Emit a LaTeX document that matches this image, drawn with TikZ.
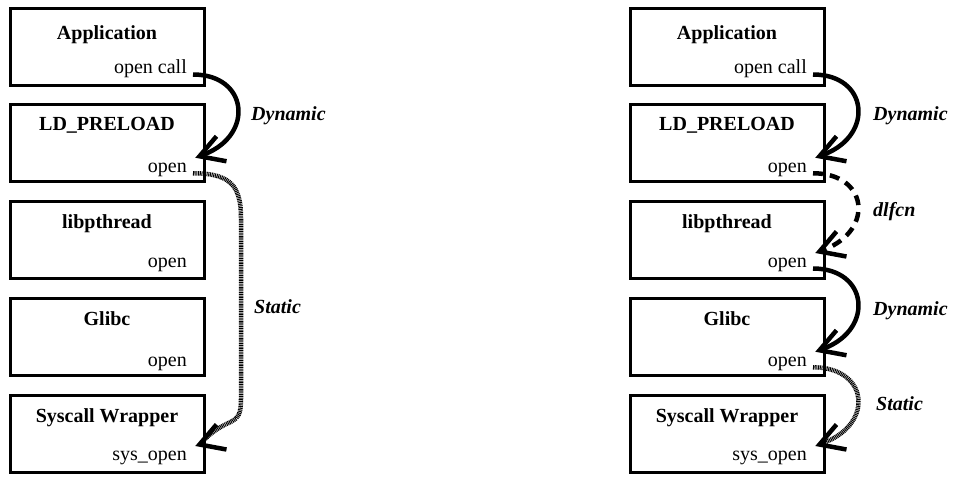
\documentclass[tikz,border=0pt]{standalone}
\usepackage{fontspec}
\setmainfont{Liberation Serif}
\usetikzlibrary{calc}
\newcommand\bigsz{\fontsize{20}{24}\selectfont}
\tikzset{
  box/.style={draw, line width=3pt, minimum width=194pt, minimum height=77pt, inner sep=0pt},
  ttl/.style={font=\bigsz\bfseries, anchor=base, inner sep=0pt},
  fn/.style={font=\bigsz, anchor=base east, inner sep=0pt},
  lbl/.style={font=\bigsz\bfseries\itshape, anchor=base west, inner sep=0pt},
  dyn/.style={line width=4.5pt, shorten >=6pt},
  stat/.style={line width=4.5pt, dash pattern=on 1pt off 0.7pt, shorten >=6pt},
  dl/.style={line width=4.5pt, dash pattern=on 10pt off 7pt, shorten >=6pt},
  wing/.style={line width=4.5pt, line join=miter, line cap=butt}
}
\begin{document}
\begin{tikzpicture}[x=1pt, y=-1pt]
\useasboundingbox (0,0) rectangle (953,477);
\foreach \s/\xo in {L/0, R/620}{
  \foreach \i/\ti/\fu/\ty/\fy in {1/Application/open call/31/65.5, 2/LD\_PRELOAD/open/25.5/67.5, 3/libpthread/open/27/66, 4/Glibc/open/27.5/68, 5/Syscall Wrapper/sys\_open/27/65.5}{
    \pgfmathsetmacro\tp{8+96.75*(\i-1)}
    \node[box] (\s\i) at (107+\xo, \tp+38.5) {};
    \node[ttl] (\s\i t) at (107+\xo, \tp+\ty) {\ti};
    \node[fn] (\s\i f) at (187+\xo, \tp+\fy) {\fu};
    \coordinate (\s\i s) at ($(\s\i f.base east)+(6,1)$);
    \coordinate (\s\i v) at ($(\s\i f.base east)+(12.5,-16)$);
  }
}
% left column connectors
\draw[dyn] (L1s) .. controls +(55,0) and +(55,-22) .. (L2v);
\draw[stat] (L2s) .. controls +(38,0) and +(0,-32) .. ($(L2s)+(48,45)$)
  -- ($(L5v)+(41.5,-45.5)$) .. controls +(0,30) and +(30,-30) .. (L5v);
% right column connectors
\draw[dyn] (R1s) .. controls +(55,0) and +(55,-22) .. (R2v);
\draw[dl] (R2s) .. controls +(55,0) and +(55,-22) .. (R3v);
\draw[dyn] (R3s) .. controls +(55,0) and +(55,-22) .. (R4v);
\draw[stat] (R4s) .. controls +(55,0) and +(55,-22) .. (R5v);
% arrow heads
\foreach \t in {L2v, L5v, R2v, R3v, R4v, R5v}{
  \draw[wing] ($(\t)+(17,-20)$) -- (\t) -- ($(\t)+(27,5)$);
}
% labels
\node[lbl] (ld1) at (251,120) {Dynamic};
\node[lbl] (ls1) at (254,313) {Static};
\node[lbl] (rd1) at (873,120) {Dynamic};
\node[lbl] (rf1) at (873,216) {dlfcn};
\node[lbl] (rd2) at (873,315) {Dynamic};
\node[lbl] (rs1) at (876,410) {Static};
\end{tikzpicture}
\end{document}
